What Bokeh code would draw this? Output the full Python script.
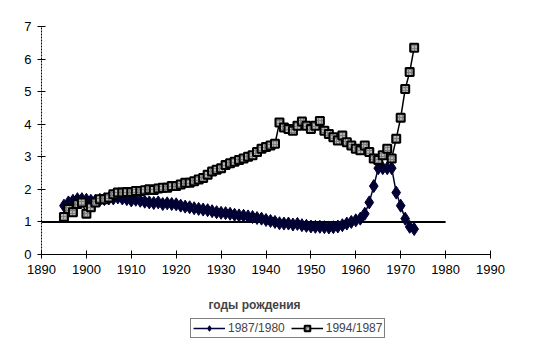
from bokeh.plotting import figure
from bokeh.layouts import column
from bokeh.models import Range1d, FixedTicker, Legend, LegendItem, ColumnDataSource, Label
from bokeh.embed import file_html
from bokeh.resources import INLINE

years = list(range(1895, 1974))

ratio_1987_1980 = [
    1.50, 1.60, 1.65, 1.70, 1.70, 1.68, 1.65, 1.65, 1.68, 1.70,
    1.72, 1.72, 1.75, 1.72, 1.70, 1.66, 1.68, 1.65, 1.62, 1.60,
    1.58, 1.60, 1.55, 1.57, 1.55, 1.54, 1.50, 1.47, 1.45, 1.42,
    1.40, 1.38, 1.36, 1.33, 1.30, 1.28, 1.27, 1.25, 1.22, 1.20,
    1.19, 1.17, 1.15, 1.12, 1.10, 1.06, 1.03, 1.00, 0.96, 0.95,
    0.95, 0.92, 0.94, 0.90, 0.88, 0.86, 0.85, 0.85, 0.84, 0.83,
    0.84, 0.86, 0.90, 0.95, 1.00, 1.05, 1.10, 1.25, 1.60, 2.10,
    2.65, 2.65, 2.65, 2.65, 1.90, 1.50, 1.10, 0.85, 0.78,
]

ratio_1994_1987 = [
    1.15, 1.40, 1.30, 1.55, 1.60, 1.25, 1.45, 1.60, 1.70, 1.70,
    1.75, 1.85, 1.90, 1.90, 1.92, 1.92, 1.95, 1.95, 1.97, 2.00,
    1.98, 2.03, 2.05, 2.05, 2.10, 2.10, 2.15, 2.20, 2.20, 2.25,
    2.30, 2.35, 2.45, 2.55, 2.60, 2.65, 2.75, 2.80, 2.85, 2.90,
    2.95, 3.00, 3.05, 3.15, 3.25, 3.30, 3.35, 3.40, 4.05, 3.90,
    3.85, 3.80, 3.95, 4.08, 3.95, 3.85, 3.95, 4.10, 3.80, 3.70,
    3.60, 3.50, 3.65, 3.45, 3.35, 3.25, 3.20, 3.35, 3.15, 2.95,
    2.90, 3.05, 3.25, 2.95, 3.55, 4.20, 5.08, 5.60, 6.35,
]

ref_x = [1890, 1980]
ref_y = [1, 1]

x_ticks = list(range(1890, 2000, 10))
y_ticks = list(range(0, 8))
series_names = ["1987/1980", "1994/1987"]
x_title = "годы рождения"

FONT = "Liberation Sans"
C1 = "#000033"

# ---------------- main chart ----------------
p = figure(width=550, height=283, output_backend="svg", toolbar_location=None,
           x_range=Range1d(1890, 1990), y_range=Range1d(0, 7),
           min_border_left=41, min_border_right=60, min_border_top=26, min_border_bottom=29)
p.outline_line_color = None
p.background_fill_color = "white"
p.border_fill_color = "white"
p.xgrid.visible = False
p.ygrid.visible = False

for ax in (p.xaxis[0], p.yaxis[0]):
    ax.major_tick_in = 4
    ax.major_tick_out = 4
    ax.minor_tick_line_color = None
    ax.axis_line_color = "black"
    ax.major_tick_line_color = "black"
    ax.major_label_text_font = FONT
    ax.major_label_text_font_size = "13px"
    ax.major_label_text_color = "black"

p.xaxis[0].ticker = FixedTicker(ticks=x_ticks)
p.yaxis[0].ticker = FixedTicker(ticks=y_ticks)
p.xaxis[0].major_label_standoff = 6
p.yaxis[0].major_label_standoff = 6
p.yaxis[0].axis_line_dash = "2 1"

src1 = ColumnDataSource(dict(x=years, y=ratio_1987_1980))
src2 = ColumnDataSource(dict(x=years, y=ratio_1994_1987))

p.line(ref_x, ref_y, line_color="black", line_width=2)

p.line("x", "y", source=src1, line_color=C1, line_width=1.5)
p.scatter("x", "y", source=src1, marker="diamond", size=13,
          fill_color=C1, line_color=C1)

p.line("x", "y", source=src2, line_color="black", line_width=1.5)
p.scatter("x", "y", source=src2, marker="square", size=8,
          fill_color="#808080", line_color="black", line_width=2,
          hatch_pattern="dot", hatch_color="white", hatch_scale=3, hatch_weight=1)

# ---------------- axis title + legend strip ----------------
q = figure(width=550, height=68, output_backend="svg", toolbar_location=None,
           x_axis_location=None, y_axis_location=None,
           x_range=Range1d(0, 1), y_range=Range1d(0, 1),
           min_border=0)
q.outline_line_color = None
q.background_fill_color = "white"
q.border_fill_color = "white"
q.xgrid.visible = False
q.ygrid.visible = False

# q's frame is aligned with p's frame (left edge at 41px)
q.add_layout(Label(x=213, y=47, x_units="screen", y_units="screen",
                   text=x_title, text_font=FONT, text_font_size="12px",
                   text_font_style="bold", text_align="center", text_baseline="middle"))

nan = float("nan")
legend_src = ColumnDataSource(dict(x=[nan], y=[nan]))
k1 = q.line("x", "y", source=legend_src, line_color=C1, line_width=1.5)
k1m = q.scatter("x", "y", source=legend_src, marker="diamond", size=13,
                fill_color=C1, line_color=C1)
k2 = q.line("x", "y", source=legend_src, line_color="black", line_width=1.5)
k2m = q.scatter("x", "y", source=legend_src, marker="square", size=8,
                fill_color="#808080", line_color="black", line_width=2,
                hatch_pattern="dot", hatch_color="white", hatch_scale=3, hatch_weight=1)

legend = Legend(items=[LegendItem(label=series_names[0], renderers=[k1, k1m]),
                       LegendItem(label=series_names[1], renderers=[k2, k2m])],
                orientation="horizontal", location=(149, 13),
                label_text_font=FONT, label_text_font_size="12px",
                glyph_width=32, glyph_height=14, label_standoff=3, spacing=6,
                padding=2, margin=0, border_line_color="black", border_line_width=1,
                background_fill_color="white", background_fill_alpha=1,
                label_height=14)
q.add_layout(legend, "center")

layout = column(p, q, spacing=0)
open("out.html", "w").write(file_html(layout, INLINE))
